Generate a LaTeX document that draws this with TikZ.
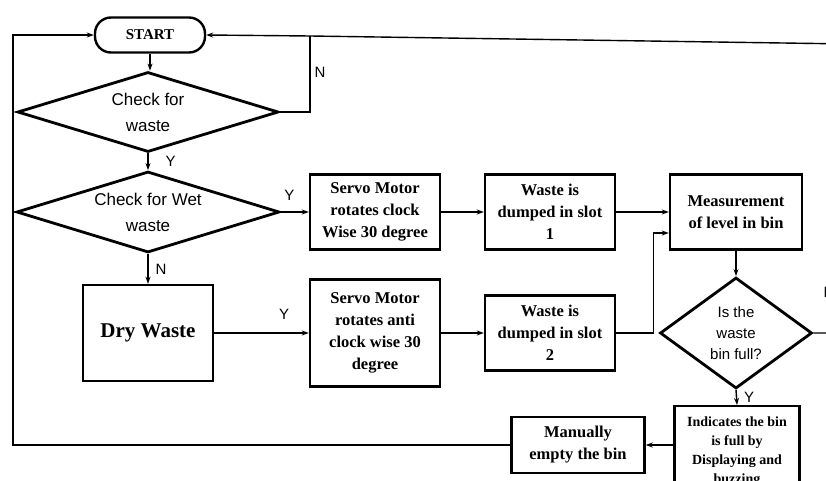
\documentclass[tikz,border=0pt]{standalone}
\usepackage{fontspec}
\setmainfont{Liberation Serif}
\newfontfamily\sansf{Liberation Sans}
\usetikzlibrary{shapes.geometric,arrows.meta}
\begin{document}
\begin{tikzpicture}[x=1pt,y=1pt,
  box/.style={draw, rectangle, line width=2.4pt, align=center, inner sep=3pt,
    font=\bfseries\fontsize{16.5}{22}\selectfont},
  term/.style={draw, rectangle, rounded corners=16pt, line width=2.4pt,
    minimum width=110, minimum height=35, font=\bfseries\fontsize{15}{18}\selectfont},
  dec/.style={draw, diamond, line width=2.8pt, align=center, inner sep=0pt,
    font=\sansf\fontsize{17}{26}\selectfont},
  conn/.style={line width=1.4pt, -{Stealth[length=7pt,width=5pt]}},
  lbl/.style={font=\sansf\fontsize{15}{15}\selectfont, inner sep=1pt}
]
\useasboundingbox (0,0) rectangle (826,-481);
\fill[white] (0,0) rectangle (826,-481);

\node[term] (start) at (150,-35) {START};
\node[dec, shape aspect=3.26, minimum width=261, minimum height=80] (d1) at (148,-112) {Check for\\waste};
\node[dec, shape aspect=3.25, minimum width=263, minimum height=81] (d2) at (148,-212) {Check for Wet\\waste};
\node[box, minimum width=130, minimum height=75] (s1) at (375,-212) {Servo Motor\\rotates clock\\Wise 30 degree};
\node[box, minimum width=130, minimum height=75] (w1) at (550,-212) {Waste is\\dumped in slot\\1};
\node[box, minimum width=132, minimum height=75] (m) at (736,-212) {Measurement\\of level in bin};
\node[box, minimum width=130, minimum height=96, font=\bfseries\fontsize{21}{25}\selectfont] (dry) at (148,-333) {Dry Waste};
\node[box, minimum width=130, minimum height=107] (s2) at (375,-333) {Servo Motor\\rotates anti\\clock wise 30\\degree};
\node[box, minimum width=130, minimum height=75] (w2) at (550,-333) {Waste is\\dumped in slot\\2};
\node[dec, shape aspect=1.37, minimum width=152, minimum height=111, font=\sansf\fontsize{15}{21}\selectfont] (d3) at (736,-333) {Is the\\waste\\bin full?};
\node[box, minimum width=125, minimum height=90, anchor=north, font=\bfseries\fontsize{14}{19}\selectfont] (ind) at (737,-405) {Indicates the bin\\is full by\\Displaying and\\buzzing};
\node[box, minimum width=133, minimum height=56] (man) at (578,-445) {Manually\\empty the bin};

\coordinate (jn) at (310,-36);
\coordinate (rt) at (850,-44);
\coordinate (lb) at (13,-445);
\coordinate (lt) at (13,-35);

\draw[conn] (start.south) -- (start.south |- d1.north);
\draw[line width=1.4pt] (d1.east) -| (jn);
\node[lbl] (n1) at (320,-72) {N};
\draw[conn] (d3.east) -- (d3.east -| rt) -- (rt) -- (jn) -- (start.east);
\node[lbl] (n3) at (829,-292) {N};
\draw[conn] (d1.south) -- (d2.north) node[lbl, midway, right=16pt] {Y};
\draw[conn] (d2.east) -- (s1.west) node[lbl, pos=0.3, above=10pt] {Y};
\draw[conn] (d2.south) -- (dry.north) node[lbl, midway, right=6pt] {N};
\draw[conn] (dry.east) -- (dry.east -| s2.west) node[lbl, pos=0.74, above=12pt] {Y};
\draw[conn] (s1.east) -- (w1.west);
\draw[conn] (w1.east) -- (m.west);
\draw[conn] (s2.east) -- (w2.west);
\draw[conn] (w2.east) -- ++(37,0) |- ([yshift=-21pt]m.west);
\draw[conn] (m.south) -- (d3.north);
\draw[conn] (d3.south) -- (ind.north) node[lbl, midway, right=6pt] {Y};
\draw[conn] (ind.west |- man.east) -- (man.east);
\draw[conn] (man.west) -- (lb) -- (lt) -- (start.west);
\end{tikzpicture}
\end{document}
